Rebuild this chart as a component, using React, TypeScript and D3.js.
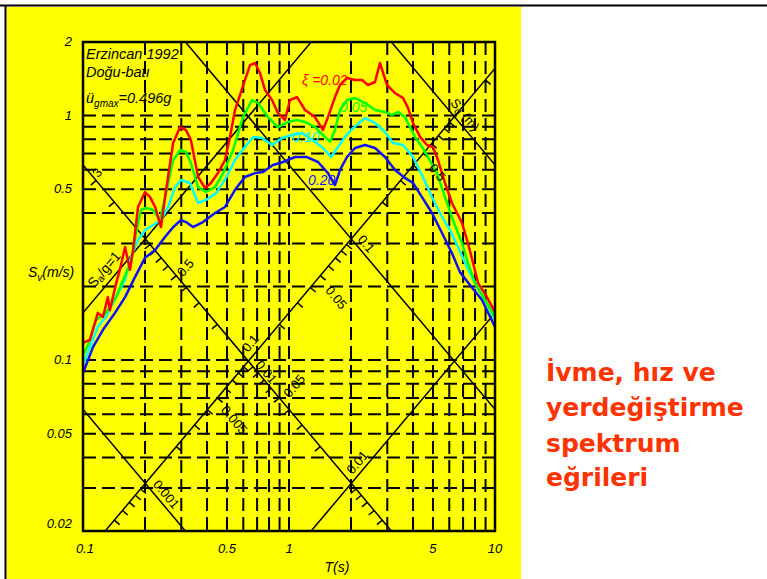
import React from 'react';
import * as d3 from 'd3';

// Erzincan 1992, Dogu-bati: velocity spectra, [T (s), Sv (m/s)]
const xi002: [number, number][] = [
  [0.1, 0.1175], [0.108, 0.121], [0.118, 0.156], [0.125, 0.15], [0.132, 0.181], [0.135, 0.16],
  [0.145, 0.207], [0.151, 0.234], [0.16, 0.29], [0.169, 0.234], [0.175, 0.282], [0.185, 0.423],
  [0.2, 0.487], [0.2115, 0.464], [0.224, 0.423], [0.239, 0.35], [0.253, 0.497], [0.274, 0.773],
  [0.296, 0.898], [0.316, 0.873], [0.334, 0.795], [0.362, 0.561], [0.391, 0.506], [0.418, 0.53],
  [0.452, 0.582], [0.489, 0.658], [0.517, 0.818], [0.547, 1.054], [0.611, 1.398], [0.647, 1.61],
  [0.684, 1.641], [0.723, 1.493], [0.765, 1.273], [0.827, 1.158], [0.884, 1.025], [0.956, 0.959],
  [1.011, 1.158], [1.094, 1.191], [1.196, 1.054], [1.337, 0.986], [1.462, 0.873], [1.546, 0.986],
  [1.672, 1.191], [1.768, 1.334], [1.912, 1.425], [2.091, 1.398], [2.262, 1.398], [2.418, 1.334],
  [2.615, 1.372], [2.765, 1.641], [2.99, 1.334], [3.27, 1.237], [3.577, 1.18], [3.782, 1.075],
  [4.0, 0.933], [4.325, 0.818], [4.677, 0.758], [5.0, 0.744], [5.29, 0.658], [5.72, 0.53],
  [6.18, 0.439], [6.915, 0.364], [7.39, 0.301], [7.82, 0.25], [8.27, 0.207], [9.14, 0.181], [10, 0.157],
];
const xi005: [number, number][] = [
  [0.1, 0.105], [0.1057, 0.115], [0.1157, 0.146], [0.1293, 0.156], [0.1446, 0.181], [0.162, 0.227],
  [0.171, 0.25], [0.181, 0.331], [0.191, 0.411], [0.202, 0.419], [0.219, 0.411], [0.2365, 0.374],
  [0.253, 0.482], [0.274, 0.658], [0.296, 0.723], [0.316, 0.71], [0.334, 0.64], [0.362, 0.51],
  [0.3955, 0.487], [0.4375, 0.51], [0.479, 0.582], [0.535, 0.723], [0.598, 0.986], [0.661, 1.158],
  [0.707, 1.126], [0.791, 0.986], [0.884, 0.898], [0.989, 0.942], [1.094, 0.959], [1.196, 0.942],
  [1.337, 0.898], [1.462, 0.833], [1.582, 0.78], [1.672, 0.873], [1.768, 1.054], [1.912, 1.158],
  [2.091, 1.18], [2.339, 1.126], [2.615, 1.054], [2.924, 1.035], [3.16, 1.005], [3.382, 1.035],
  [3.656, 0.986], [3.866, 0.898], [4.09, 0.818], [4.422, 0.744], [4.73, 0.677], [5.23, 0.582],
  [5.72, 0.464], [6.25, 0.374], [6.915, 0.301], [7.39, 0.25], [8.0, 0.207], [8.94, 0.176], [10, 0.15],
];
const xi010: [number, number][] = [
  [0.1, 0.0955], [0.108, 0.113], [0.118, 0.137], [0.1293, 0.15], [0.1446, 0.181], [0.16, 0.213],
  [0.171, 0.264], [0.185, 0.31], [0.2, 0.34], [0.219, 0.357], [0.239, 0.374], [0.259, 0.423],
  [0.28, 0.51], [0.299, 0.545], [0.3305, 0.53], [0.362, 0.439], [0.3955, 0.452], [0.4425, 0.482],
  [0.4945, 0.556], [0.547, 0.658], [0.611, 0.744], [0.669, 0.818], [0.74, 0.81], [0.827, 0.758],
  [0.925, 0.81], [1.034, 0.833], [1.157, 0.849], [1.293, 0.795], [1.446, 0.744], [1.6, 0.677],
  [1.729, 0.744], [1.87, 0.818], [2.045, 0.889], [2.339, 0.977], [2.615, 0.933], [2.924, 0.857],
  [3.2, 0.773], [3.577, 0.758], [4.0, 0.677], [4.422, 0.571], [4.945, 0.464], [5.53, 0.385],
  [6.05, 0.34], [6.61, 0.29], [7.31, 0.24], [8.18, 0.199], [9.14, 0.171], [10, 0.146],
];
const xi020: [number, number][] = [
  [0.1, 0.0885], [0.1118, 0.113], [0.125, 0.133], [0.143, 0.156], [0.16, 0.181], [0.179, 0.219],
  [0.2, 0.262], [0.224, 0.282], [0.25, 0.319], [0.274, 0.35], [0.299, 0.374], [0.316, 0.367],
  [0.342, 0.35], [0.382, 0.367], [0.4375, 0.3995], [0.489, 0.423], [0.547, 0.497], [0.611, 0.561],
  [0.684, 0.582], [0.748, 0.588], [0.836, 0.628], [0.935, 0.646], [1.07, 0.677], [1.223, 0.677],
  [1.383, 0.646], [1.546, 0.582], [1.672, 0.52], [1.768, 0.599], [1.912, 0.677], [2.091, 0.737],
  [2.339, 0.758], [2.615, 0.737], [2.924, 0.677], [3.27, 0.599], [3.656, 0.556], [4.0, 0.53],
  [4.422, 0.464], [4.945, 0.3995], [5.53, 0.331], [6.18, 0.274], [6.76, 0.229], [7.56, 0.203],
  [8.65, 0.176], [10, 0.1366],
];

const curves = [
  { data: xi020, color: '#1010ff' },
  { data: xi010, color: '#00ffff' },
  { data: xi005, color: '#00ff00' },
  { data: xi002, color: '#ff0000' },
];

// axes
const xTicks = [0.1, 0.5, 1, 5, 10];
const yTicks = [0.02, 0.05, 0.1, 0.5, 1, 2];
const xGrid = [0.2, 0.3, 0.4, 0.5, 0.6, 0.7, 0.8, 0.9, 1, 2, 3, 4, 5, 6, 7, 8, 9];
const yGrid = [0.03, 0.04, 0.05, 0.06, 0.07, 0.08, 0.09, 0.1, 0.2, 0.3, 0.4, 0.5, 0.6, 0.7, 0.8, 0.9, 1];

// tripartite: constant Sa/g and constant Sd (m)
const saLines = [1, 0.1, 0.01];
const sdLines = [0.001, 0.01, 0.1, 1];
const saTicks = [3, 2, 0.9, 0.8, 0.7, 0.6, 0.5, 0.4, 0.3, 0.2, 0.09, 0.08, 0.07, 0.06, 0.05, 0.04, 0.03, 0.02,
  0.009, 0.008, 0.007, 0.006, 0.005];
const sdTicks = [0.0005, 0.0006, 0.0007, 0.0008, 0.0009, 0.002, 0.003, 0.004, 0.005, 0.006, 0.007, 0.008, 0.009,
  0.02, 0.03, 0.04, 0.05, 0.06, 0.07, 0.08, 0.09, 0.2, 0.3, 0.4, 0.5, 0.6, 0.7, 0.8, 0.9, 2];
const saAxisSd = 0.01; // Sa scale drawn along this Sd line
const sdAxisSa = 0.1;  // Sd scale drawn along this Sa line
const saLabels = [
  { v: 3, text: '3', dx: 1, dy: -8 },
  { v: 0.5, text: '0.5', dx: 9, dy: -8 },
  { v: 0.1, text: '0.1', dx: 2, dy: -18 },
  { v: 0.05, text: '0.05', dx: 15, dy: -12 },
  { v: 0.01, text: '0.01', dx: 6, dy: -21 },
];
const sdLabels = [
  { v: 0.001, text: '0.001', dx: 21, dy: 11 },
  { v: 0.005, text: '0.005', dx: 17, dy: 22 },
  { v: 0.01, text: '0.01', dx: 18, dy: 11 },
  { v: 0.05, text: '0.05', dx: 16, dy: 22 },
  { v: 0.1, text: '0.1', dx: 15, dy: 5 },
  { v: 0.5, text: '0.5', dx: 14, dy: 19 },
];

const g = 9.81;
const TWO_PI = 2 * Math.PI;

export default function App() {
  const x = d3.scaleLog().domain([0.1, 10]).range([83, 495]);
  const y = d3.scaleLog().domain([0.02, 2]).range([531, 42]);
  const line = d3.line<[number, number]>().x(d => x(d[0])).y(d => y(d[1]));

  const kx = x(1) - x(0.1);
  const ky = y(0.1) - y(1);
  const n = Math.hypot(kx, ky);
  const ang = (Math.atan2(ky, kx) * 180) / Math.PI;

  // point where Sa/g = a meets Sd = d
  const cross = (a: number, d: number) => {
    const w = Math.sqrt((a * g) / d);
    return [x(TWO_PI / w), y(w * d)];
  };

  const font = "'Liberation Sans', Arial, sans-serif";
  const dash = '13 6';

  return (
    <svg width={767} height={579} style={{ position: 'absolute', left: 0, top: 0 }} fontFamily={font}>
      <defs>
        <clipPath id="plot">
          <rect x={83} y={42} width={412} height={489} />
        </clipPath>
      </defs>
      <rect x={0} y={0} width={767} height={579} fill="#fff" />
      <rect x={7} y={7} width={514} height={572} fill="#ffff00" />
      <line x1={0} x2={767} y1={5.5} y2={5.5} stroke="#000" strokeWidth={2} />
      <line x1={5.5} x2={5.5} y1={5} y2={579} stroke="#000" strokeWidth={2} />

      <g clipPath="url(#plot)">
        {xGrid.map(t => (
          <line key={'gx' + t} x1={x(t)} x2={x(t)} y1={42} y2={531} stroke="#000" strokeWidth={2} strokeDasharray={dash} />
        ))}
        {yGrid.map(v => (
          <line key={'gy' + v} x1={83} x2={495} y1={y(v)} y2={y(v)} stroke="#000" strokeWidth={2} strokeDasharray={dash} />
        ))}
        {saLines.map(a => (
          <line key={'sa' + a} x1={x(0.01)} y1={y((a * g * 0.01) / TWO_PI)} x2={x(100)} y2={y((a * g * 100) / TWO_PI)}
            stroke="#000" strokeWidth={1.5} />
        ))}
        {sdLines.map(d => (
          <line key={'sd' + d} x1={x(0.01)} y1={y((TWO_PI * d) / 0.01)} x2={x(100)} y2={y((TWO_PI * d) / 100)}
            stroke="#000" strokeWidth={1.5} />
        ))}
        {saTicks.map(a => {
          const [px, py] = cross(a, saAxisSd);
          return <line key={'st' + a} x1={px} y1={py} x2={px - (ky / n) * 7} y2={py + (kx / n) * 7} stroke="#000" strokeWidth={1.5} />;
        })}
        {sdTicks.map(d => {
          const [px, py] = cross(sdAxisSa, d);
          return <line key={'dt' + d} x1={px} y1={py} x2={px + (ky / n) * 7} y2={py + (kx / n) * 7} stroke="#000" strokeWidth={1.5} />;
        })}
        {curves.map(c => (
          <path key={c.color} d={line(c.data) || ''} fill="none" stroke={c.color} strokeWidth={2.5} strokeLinejoin="round" />
        ))}
      </g>
      <rect x={83} y={42} width={412} height={489} fill="none" stroke="#000" strokeWidth={2.5} />

      {/* tripartite labels */}
      {saLabels.map(l => {
        const [px, py] = cross(l.v, saAxisSd);
        return (
          <text key={'sl' + l.text} x={px + l.dx} y={py + l.dy} fontSize={13} textAnchor="middle" dominantBaseline="central"
            transform={`rotate(${-ang} ${px + l.dx} ${py + l.dy})`}>{l.text}</text>
        );
      })}
      {sdLabels.map(l => {
        const [px, py] = cross(sdAxisSa, l.v);
        return (
          <text key={'dl' + l.text} x={px + l.dx} y={py + l.dy} fontSize={13} textAnchor="middle" dominantBaseline="central"
            transform={`rotate(${ang} ${px + l.dx} ${py + l.dy})`}>{l.text}</text>
        );
      })}
      {(() => {
        const [px, py] = cross(sdAxisSa, 1);
        const lx = px + 11, ly = py - 2;
        return (
          <text x={lx} y={ly} fontSize={13} textAnchor="middle" dominantBaseline="central" transform={`rotate(${ang} ${lx} ${ly})`}>
            S<tspan fontSize={10} dy={3}>d</tspan><tspan dy={-3}> (m)</tspan>
          </text>
        );
      })()}
      {(() => {
        const t = 0.14;
        const px = x(t) - (ky / n) * 12;
        const py = y((g * t) / TWO_PI) - (kx / n) * 12;
        return (
          <text x={px} y={py} fontSize={14} textAnchor="middle" dominantBaseline="central" transform={`rotate(${-ang} ${px} ${py})`}>
            S<tspan fontSize={10} dy={3}>a</tspan><tspan dy={-3}>/g=1</tspan>
          </text>
        );
      })()}

      {/* damping labels */}
      <text x={x(1.157)} y={y(1.334)} fontSize={14} fontStyle="italic" fill="#ff0000">ξ =0.02</text>
      <text x={x(1.768)} y={y(1.035)} fontSize={14} fontStyle="italic" fill="#00ff00">0.05</text>
      <text x={x(1.034)} y={y(0.78)} fontSize={14} fontStyle="italic" fill="#00ffff">0.10</text>
      <text x={x(1.236)} y={y(0.52)} fontSize={14} fontStyle="italic" fill="#1010ff">0.20</text>

      {/* record info */}
      <g fontSize={14.5} fontStyle="italic">
        <text x={86} y={59}>Erzincan 1992</text>
        <text x={86} y={77}>Doğu-batı</text>
        <text x={86} y={103}>ü<tspan fontSize={10} dy={4}>gmax</tspan><tspan dy={-4}>=0.496g</tspan></text>
      </g>

      {/* axes labels */}
      <g fontSize={13} fontStyle="italic">
        {yTicks.map(v => (
          <text key={'yl' + v} x={72} y={y(v) + (v === 0.02 ? -3 : 4)} textAnchor="end">{v}</text>
        ))}
        {xTicks.map(t => (
          <text key={'xl' + t} x={x(t) + (t === 0.1 ? 2 : 0)} y={553} textAnchor="middle">{t}</text>
        ))}
        <text x={337} y={572} textAnchor="middle" fontSize={14}>T(s)</text>
        <text x={28} y={277} fontSize={14}>S<tspan fontSize={10} dy={4}>v</tspan><tspan dy={-4}>(m/s)</tspan></text>
      </g>

      <g fontFamily="'DejaVu Sans', sans-serif" fontWeight="bold" fontSize={25} fill="#ff3300">
        <text x={546} y={381}>İvme, hız ve</text>
        <text x={546} y={416}>yerdeğiştirme</text>
        <text x={546} y={452}>spektrum</text>
        <text x={546} y={486}>eğrileri</text>
      </g>
    </svg>
  );
}
